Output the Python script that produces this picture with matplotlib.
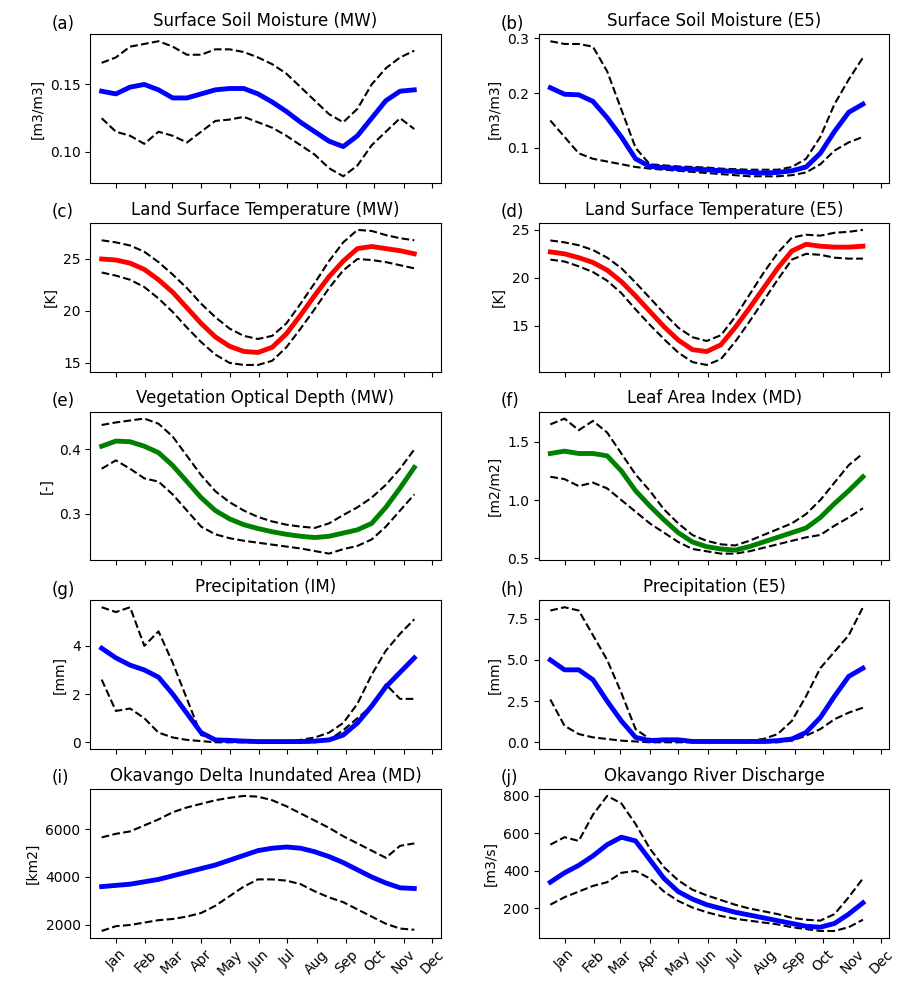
import numpy as np
import matplotlib.pyplot as plt

days = np.arange(0, 331, 15)
month_ticks = [15, 46, 74, 105, 135, 166, 196, 227, 258, 288, 319, 349]
month_labels = ["Jan", "Feb", "Mar", "Apr", "May", "Jun", "Jul", "Aug", "Sep", "Oct", "Nov", "Dec"]

ssm_mw_mean = [0.145, 0.143, 0.148, 0.150, 0.146, 0.140, 0.140, 0.143, 0.146, 0.147, 0.147, 0.143, 0.137, 0.130, 0.122, 0.115, 0.108, 0.104, 0.112, 0.125, 0.138, 0.145, 0.146]
ssm_mw_hi = [0.166, 0.170, 0.178, 0.180, 0.182, 0.178, 0.172, 0.172, 0.176, 0.176, 0.174, 0.170, 0.165, 0.158, 0.148, 0.138, 0.128, 0.122, 0.132, 0.150, 0.162, 0.170, 0.175]
ssm_mw_lo = [0.125, 0.115, 0.112, 0.106, 0.115, 0.112, 0.107, 0.115, 0.123, 0.124, 0.126, 0.122, 0.118, 0.112, 0.105, 0.098, 0.088, 0.082, 0.090, 0.105, 0.115, 0.125, 0.117]

ssm_e5_mean = [0.21, 0.198, 0.197, 0.185, 0.155, 0.12, 0.08, 0.066, 0.064, 0.062, 0.061, 0.060, 0.058, 0.057, 0.055, 0.054, 0.055, 0.058, 0.065, 0.09, 0.13, 0.165, 0.18]
ssm_e5_hi = [0.295, 0.29, 0.29, 0.285, 0.24, 0.17, 0.10, 0.07, 0.068, 0.066, 0.065, 0.064, 0.062, 0.061, 0.060, 0.060, 0.060, 0.065, 0.08, 0.12, 0.18, 0.225, 0.265]
ssm_e5_lo = [0.15, 0.12, 0.09, 0.08, 0.075, 0.07, 0.065, 0.062, 0.060, 0.058, 0.056, 0.054, 0.052, 0.050, 0.048, 0.048, 0.048, 0.050, 0.055, 0.07, 0.095, 0.11, 0.12]

lst_mw_mean = [25, 24.9, 24.6, 24, 23, 21.8, 20.3, 18.8, 17.5, 16.6, 16.1, 16.0, 16.5, 17.8, 19.6, 21.5, 23.3, 24.8, 26, 26.2, 26.0, 25.8, 25.5]
lst_mw_hi = [26.8, 26.6, 26.3, 25.7, 24.7, 23.5, 22.2, 20.7, 19.4, 18.3, 17.6, 17.3, 17.6, 18.8, 20.7, 22.7, 24.8, 26.6, 27.8, 27.7, 27.3, 27.0, 26.8]
lst_mw_lo = [23.7, 23.4, 23.0, 22.3, 21.2, 19.9, 18.4, 17.0, 15.8, 15.0, 14.8, 14.8, 15.2, 16.5, 18.3, 20.2, 22.2, 23.9, 25.0, 24.9, 24.7, 24.4, 24.1]

lst_e5_mean = [22.7, 22.5, 22.1, 21.6, 20.8, 19.6, 18.1, 16.5, 14.9, 13.5, 12.5, 12.3, 13.0, 14.8, 16.8, 18.9, 21.0, 22.8, 23.5, 23.3, 23.2, 23.2, 23.3]
lst_e5_hi = [23.9, 23.7, 23.4, 22.9, 22.1, 21.0, 19.5, 17.9, 16.3, 14.8, 13.8, 13.4, 14.0, 15.9, 18.2, 20.5, 22.6, 24.2, 24.5, 24.4, 24.7, 24.8, 25.0]
lst_e5_lo = [21.9, 21.7, 21.2, 20.6, 19.7, 18.4, 16.7, 15.1, 13.6, 12.2, 11.2, 10.9, 11.5, 13.3, 15.4, 17.6, 19.8, 21.9, 22.5, 22.4, 22.1, 22.0, 22.0]

vod_mean = [0.405, 0.413, 0.412, 0.405, 0.395, 0.375, 0.35, 0.325, 0.305, 0.292, 0.283, 0.277, 0.272, 0.268, 0.265, 0.263, 0.265, 0.27, 0.275, 0.285, 0.31, 0.34, 0.372]
vod_hi = [0.438, 0.442, 0.445, 0.448, 0.44, 0.42, 0.39, 0.36, 0.335, 0.318, 0.305, 0.295, 0.288, 0.283, 0.28, 0.278, 0.285, 0.298, 0.31, 0.325, 0.345, 0.37, 0.40]
vod_lo = [0.37, 0.383, 0.37, 0.355, 0.35, 0.33, 0.305, 0.28, 0.268, 0.262, 0.258, 0.255, 0.252, 0.249, 0.246, 0.242, 0.238, 0.245, 0.25, 0.26, 0.28, 0.305, 0.33]

lai_mean = [1.40, 1.42, 1.40, 1.40, 1.38, 1.25, 1.08, 0.95, 0.83, 0.72, 0.64, 0.60, 0.58, 0.57, 0.60, 0.64, 0.68, 0.72, 0.76, 0.85, 0.97, 1.08, 1.20]
lai_hi = [1.65, 1.70, 1.60, 1.68, 1.58, 1.40, 1.22, 1.08, 0.92, 0.80, 0.70, 0.65, 0.62, 0.61, 0.65, 0.70, 0.75, 0.80, 0.88, 1.00, 1.15, 1.30, 1.40]
lai_lo = [1.20, 1.18, 1.12, 1.15, 1.10, 1.00, 0.90, 0.80, 0.72, 0.64, 0.58, 0.56, 0.54, 0.54, 0.56, 0.59, 0.62, 0.65, 0.68, 0.70, 0.78, 0.85, 0.93]

pr_im_mean = [3.9, 3.5, 3.2, 3.0, 2.7, 2.0, 1.2, 0.4, 0.1, 0.08, 0.05, 0.03, 0.03, 0.03, 0.03, 0.05, 0.1, 0.3, 0.8, 1.5, 2.3, 2.9, 3.5]
pr_im_hi = [5.6, 5.4, 5.6, 4.0, 4.6, 3.3, 1.8, 0.3, 0.1, 0.1, 0.05, 0.05, 0.05, 0.05, 0.1, 0.2, 0.4, 0.8, 1.6, 2.8, 3.8, 4.5, 5.1]
pr_im_lo = [2.6, 1.3, 1.4, 1.0, 0.4, 0.2, 0.1, 0.05, 0, 0, 0, 0, 0, 0, 0, 0, 0.1, 0.5, 1.0, 1.5, 2.4, 1.8, 1.8]

pr_e5_mean = [5.0, 4.4, 4.4, 3.8, 2.5, 1.3, 0.3, 0.1, 0.15, 0.15, 0.05, 0.05, 0.05, 0.05, 0.05, 0.05, 0.1, 0.2, 0.6, 1.5, 2.8, 4.0, 4.5]
pr_e5_hi = [8.0, 8.2, 8.0, 6.5, 5.0, 3.0, 0.8, 0.2, 0.2, 0.2, 0.1, 0.1, 0.1, 0.1, 0.1, 0.2, 0.5, 1.3, 2.8, 4.5, 5.5, 6.5, 8.2]
pr_e5_lo = [2.6, 1.0, 0.5, 0.3, 0.2, 0.1, 0.05, 0, 0, 0, 0, 0, 0, 0, 0, 0, 0, 0.1, 0.4, 0.8, 1.4, 1.8, 2.1]

inund_mean = [3600, 3650, 3700, 3800, 3900, 4050, 4200, 4350, 4500, 4700, 4900, 5100, 5200, 5250, 5200, 5050, 4850, 4600, 4300, 4000, 3750, 3550, 3520]
inund_hi = [5650, 5800, 5900, 6150, 6400, 6700, 6900, 7050, 7200, 7300, 7380, 7350, 7200, 6950, 6650, 6350, 6050, 5700, 5400, 5100, 4800, 5300, 5400]
inund_lo = [1750, 1950, 2000, 2100, 2200, 2250, 2350, 2500, 2800, 3200, 3600, 3900, 3900, 3850, 3700, 3400, 3150, 2950, 2650, 2350, 2050, 1850, 1800]

dis_mean = [340, 390, 430, 480, 540, 580, 560, 460, 360, 290, 250, 220, 200, 180, 165, 150, 135, 120, 105, 100, 120, 170, 230]
dis_hi = [540, 580, 560, 700, 800, 760, 650, 520, 420, 350, 300, 270, 245, 220, 200, 185, 170, 150, 140, 135, 170, 260, 360]
dis_lo = [220, 260, 290, 320, 340, 390, 400, 360, 290, 240, 205, 180, 160, 145, 135, 125, 115, 100, 90, 80, 80, 100, 140]

panels = [
    ("(a)", "Surface Soil Moisture (MW)", "[m3/m3]", "blue", ssm_mw_mean, ssm_mw_hi, ssm_mw_lo, [0.10, 0.15]),
    ("(b)", "Surface Soil Moisture (E5)", "[m3/m3]", "blue", ssm_e5_mean, ssm_e5_hi, ssm_e5_lo, [0.1, 0.2, 0.3]),
    ("(c)", "Land Surface Temperature (MW)", "[K]", "red", lst_mw_mean, lst_mw_hi, lst_mw_lo, [15, 20, 25]),
    ("(d)", "Land Surface Temperature (E5)", "[K]", "red", lst_e5_mean, lst_e5_hi, lst_e5_lo, [15, 20, 25]),
    ("(e)", "Vegetation Optical Depth (MW)", "[-]", "green", vod_mean, vod_hi, vod_lo, [0.3, 0.4]),
    ("(f)", "Leaf Area Index (MD)", "[m2/m2]", "green", lai_mean, lai_hi, lai_lo, [0.5, 1.0, 1.5]),
    ("(g)", "Precipitation (IM)", "[mm]", "blue", pr_im_mean, pr_im_hi, pr_im_lo, [0, 2, 4]),
    ("(h)", "Precipitation (E5)", "[mm]", "blue", pr_e5_mean, pr_e5_hi, pr_e5_lo, [0.0, 2.5, 5.0, 7.5]),
    ("(i)", "Okavango Delta Inundated Area (MD)", "[km2]", "blue", inund_mean, inund_hi, inund_lo, [2000, 4000, 6000]),
    ("(j)", "Okavango River Discharge", "[m3/s]", "blue", dis_mean, dis_hi, dis_lo, [200, 400, 600, 800]),
]

fig, axes = plt.subplots(5, 2, figsize=(9.03, 9.85), dpi=100, sharex=True)
plt.subplots_adjust(left=0.1, right=0.985, top=0.965, bottom=0.048, wspace=0.28, hspace=0.27)

for ax, (tag, title, ylabel, color, mean, hi, lo, yt) in zip(axes.flat, panels):
    ax.plot(days, hi, "k--", lw=1.5)
    ax.plot(days, lo, "k--", lw=1.5)
    ax.plot(days, mean, color=color, lw=3.5)
    ax.set_title(title, fontsize=12)
    ax.text(-0.11, 1.04, tag, transform=ax.transAxes, fontsize=12)
    ax.set_ylabel(ylabel)
    ax.set_yticks(yt)
    ax.set_xlim(-12, 358)

for ax in axes[-1]:
    ax.set_xticks(month_ticks)
    ax.set_xticklabels(month_labels, rotation=45)

plt.savefig("out.png")
